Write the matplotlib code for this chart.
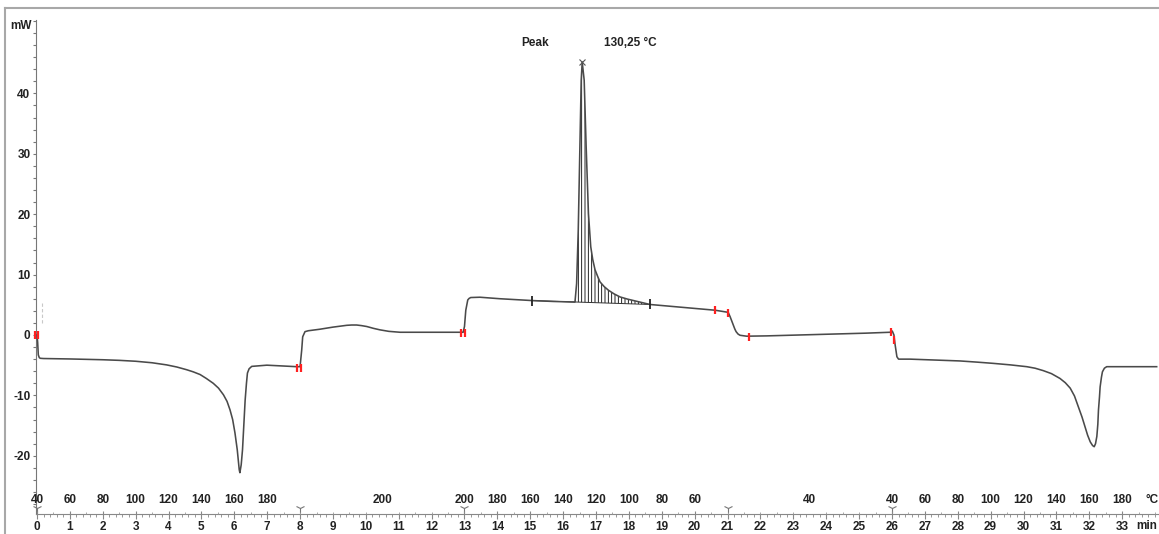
import numpy as np
import matplotlib.pyplot as plt
from matplotlib.lines import Line2D
from matplotlib.ticker import MultipleLocator, FixedLocator

plt.rcParams['font.family'] = ['Liberation Sans', 'DejaVu Sans']
plt.rcParams['font.weight'] = 'bold'
plt.rcParams['hatch.linewidth'] = 0.6
plt.rcParams['axes.unicode_minus'] = False

# ---- DSC curve (time in min, heat flow in mW) ----
# 1st heating 40 -> 200 C
t_heat1 = [0.0, 0.02, 0.04, 0.07, 0.1, 0.2, 1.0, 2.0, 2.5, 3.0, 3.5, 3.94, 4.25,
           4.55, 4.75, 4.96, 5.15, 5.36, 5.52, 5.67, 5.78, 5.87, 5.95, 6.02, 6.09,
           6.15, 6.17, 6.21, 6.25, 6.29, 6.33, 6.37, 6.4, 6.45, 6.53, 6.99, 7.9, 8.0]
hf_heat1 = [0.0, -1.2, -3.3, -3.75, -3.86, -3.9, -3.97, -4.1, -4.2, -4.35, -4.6, -4.95, -5.3,
            -5.75, -6.1, -6.55, -7.2, -8.0, -8.8, -9.9, -11.0, -12.4, -14.0, -16.2, -19.0,
            -22.3, -22.8, -21.5, -19.0, -15.0, -10.8, -8.0, -6.3, -5.6, -5.2, -5.0, -5.25, -5.25]
# isothermal 200 C
t_iso200 = [8.05, 8.08, 8.15, 8.25, 8.6, 9.0, 9.2, 9.42, 9.57, 9.72, 9.87, 10.03,
            10.23, 10.43, 10.7, 11.04, 12.0, 12.96]
hf_iso200 = [-2.5, -0.3, 0.55, 0.7, 0.95, 1.3, 1.45, 1.6, 1.65, 1.65, 1.55, 1.4,
             1.1, 0.85, 0.6, 0.45, 0.45, 0.45]
# cooling 200 -> 40 C, before the peak
t_cool_a = [13.0, 13.04, 13.1, 13.14, 13.19, 13.47, 14.08, 15.05, 15.7]
hf_cool_a = [1.4, 4.1, 5.8, 6.05, 6.2, 6.25, 6.0, 5.7, 5.55]
# crystallisation peak
t_peak = [16.36, 16.41, 16.46, 16.51, 16.55, 16.58, 16.64, 16.70, 16.77, 16.84,
          16.9, 16.97, 17.05, 17.12, 17.25, 17.38, 17.55, 17.73, 17.95, 18.14, 18.4, 18.64]
hf_peak = [5.45, 8.5, 17.4, 31.2, 42.2, 45.2, 42.2, 31.2, 20.1, 14.6,
           12.5, 10.8, 9.7, 8.8, 8.0, 7.4, 6.8, 6.3, 5.95, 5.7, 5.35, 5.05]
# cooling after the peak
t_cool_b = [20.62, 21.02, 21.08, 21.13, 21.18, 21.22, 21.26, 21.32, 21.38, 21.58]
hf_cool_b = [4.1, 3.75, 3.0, 2.3, 1.65, 1.0, 0.55, 0.15, -0.05, -0.2]
# isothermal 40 C
t_iso40 = [22.19, 23.2, 24.2, 25.2, 25.94, 26.01]
hf_iso40 = [-0.15, 0.0, 0.15, 0.3, 0.45, 0.65]
# 2nd heating 40 -> 200 C
t_heat2 = [26.06, 26.09, 26.15, 26.2, 26.55, 27.3, 28.07, 28.6, 29.08, 29.6, 30.1,
           30.35, 30.6, 30.85, 31.11, 31.27, 31.42, 31.55, 31.67, 31.78, 31.87, 31.95,
           32.03, 32.1, 32.15, 32.19, 32.23, 32.26, 32.28, 32.31, 32.33, 32.37, 32.4,
           32.46, 32.53, 33.14, 34.05]
hf_heat2 = [0.0, -1.4, -3.6, -4.0, -4.0, -4.15, -4.3, -4.5, -4.7, -4.95, -5.25,
            -5.5, -5.9, -6.4, -7.2, -7.9, -8.8, -10.1, -11.9, -13.6, -15.2, -16.6,
            -17.7, -18.3, -18.5, -18.0, -16.8, -14.8, -12.4, -10.3, -8.6, -7.0, -6.1,
            -5.5, -5.25, -5.25, -5.25]

# evaluation limits / markers
base_t = [15.05, 18.64]
base_hf = [5.7, 5.05]
red_t = [-0.06, 0.04, 7.92, 8.03, 12.9, 13.02, 20.62, 21.02, 21.64, 25.97, 26.06]
red_hf = [0.0, 0.0, -5.4, -5.4, 0.3, 0.3, 4.1, 3.6, -0.3, 0.5, -0.9]
apex_t, apex_hf = 16.58, 45.2
peak_text = ['Peak', '130,25 °C']
peak_text_t = [15.15, 18.03]
dash_t = [0.14, 0.14]
dash_hf = [2.0, 5.5]

segment_bounds = [0, 8, 13, 21, 26]
temp_pos = [0, 1, 2, 3, 4, 5, 6, 7, 10.5, 13, 14, 15, 16, 17, 18, 19, 20,
            23.5, 26, 27, 28, 29, 30, 31, 32, 33]
temp_lab = ['40', '60', '80', '100', '120', '140', '160', '180', '200',
            '200', '180', '160', '140', '120', '100', '80', '60', '40',
            '40', '60', '80', '100', '120', '140', '160', '180']

t_all = np.concatenate([t_heat1, t_iso200, t_cool_a, t_peak, t_cool_b, t_iso40, t_heat2])
hf_all = np.concatenate([hf_heat1, hf_iso200, hf_cool_a, hf_peak, hf_cool_b, hf_iso40, hf_heat2])

W_px, H_px = 1159, 534
fig = plt.figure(figsize=(W_px / 100, H_px / 100), dpi=100)
L = 36 / W_px
B = 1 - 514 / H_px
W = (1158 - 36) / W_px
H = (514 - 20) / H_px
ax = fig.add_axes([L, B, W, H])
xmin, xmax = -0.03, 34.09
ymin, ymax = -29.64, 52.15

ax.plot(t_all, hf_all, color='#4a4a4a', lw=1.15, zorder=3)

# hatched peak area over the straight baseline
peak_base = np.interp(t_peak, base_t, base_hf)
ax.fill_between(t_peak, peak_base, hf_peak, facecolor='none', edgecolor='black',
                hatch='|||||', lw=0, zorder=2)
ax.plot(base_t, base_hf, color='#333333', lw=0.7, zorder=2)

ax.plot(red_t, red_hf, ls='none', marker='|', ms=6, mew=1.6, color='#ff2020',
        zorder=4, clip_on=False)
ax.plot(base_t, base_hf, ls='none', marker='|', ms=7, mew=1.3, color='#222222', zorder=4)
ax.plot([apex_t], [apex_hf], ls='none', marker='x', ms=4, mew=0.8, color='#555555', zorder=4)
ax.plot(dash_t, dash_hf, ls=(0, (3, 2)), color='#c8c8c8', lw=0.8)

for s, tx in zip(peak_text, peak_text_t):
    ax.text(tx, 48.3, s, ha='center', va='center', fontsize=8.5, fontweight='bold',
            color='#222222')

ax.set_xlim(xmin, xmax)
ax.set_ylim(ymin, ymax)
for sp in ['top', 'right']:
    ax.spines[sp].set_visible(False)
ax.spines['left'].set_color('#777777')
ax.spines['bottom'].set_color('#888888')

ax.yaxis.set_minor_locator(MultipleLocator(2))
ax.set_yticks([-20, -10, 0, 10, 20, 30, 40])
ax.tick_params(axis='y', which='both', direction='out', length=2.5, width=0.8,
               color='#777777', pad=1.5, labelsize=8.5, labelcolor='#222222')
ax.xaxis.set_minor_locator(MultipleLocator(0.2))
ax.set_xticks(range(0, 34))
ax.tick_params(axis='x', which='major', direction='out', length=3.5, width=0.8,
               color='#888888', pad=1.5, labelsize=8.5, labelcolor='#222222')
ax.tick_params(axis='x', which='minor', direction='out', length=2, width=0.6,
               color='#888888')

# temperature scale on top of the time line
ax2 = fig.add_axes([L, B, W, 0.0001])
ax2.set_xlim(xmin, xmax)
ax2.patch.set_visible(False)
for sp in ax2.spines.values():
    sp.set_visible(False)
ax2.set_yticks([])
ax2.xaxis.tick_top()
ax2.xaxis.set_major_locator(FixedLocator(temp_pos))
ax2.set_xticklabels(temp_lab)
ax2.xaxis.set_minor_locator(MultipleLocator(0.5))
ax2.tick_params(axis='x', which='major', direction='out', length=2.5, width=0.8,
                color='#888888', pad=3.5, labelsize=8.5, labelcolor='#222222')
ax2.tick_params(axis='x', which='minor', direction='out', length=1.5, width=0.6,
                color='#999999')
for tk, p in zip(ax2.xaxis.get_major_ticks(), temp_pos):
    if p in (10.5, 23.5):
        tk.tick2line.set_visible(False)

ax.plot(segment_bounds, [0.012] * len(segment_bounds), ls='none', marker='1', ms=7,
        mew=0.8, color='#777777', transform=ax.get_xaxis_transform(), clip_on=False)

ax.text(33.9, 0.028, '°C', transform=ax.get_xaxis_transform(), ha='center',
        va='center', fontsize=8.5, color='#222222')
ax.text(33.76, -0.024, 'min', transform=ax.get_xaxis_transform(), ha='center',
        va='center', fontsize=8.5, color='#222222')
fig.text(21 / W_px, 1 - 26 / H_px, 'mW', ha='center', va='center', fontsize=8.5,
         color='#222222')

# outer frame of the print-out
fig.add_artist(Line2D([5 / W_px, 5 / W_px], [0, 1 - 8 / H_px], color='#a8a8a8', lw=1.5))
fig.add_artist(Line2D([5 / W_px, 1], [1 - 8 / H_px, 1 - 8 / H_px], color='#a8a8a8', lw=1.5))

fig.savefig('out.png', dpi=100)
